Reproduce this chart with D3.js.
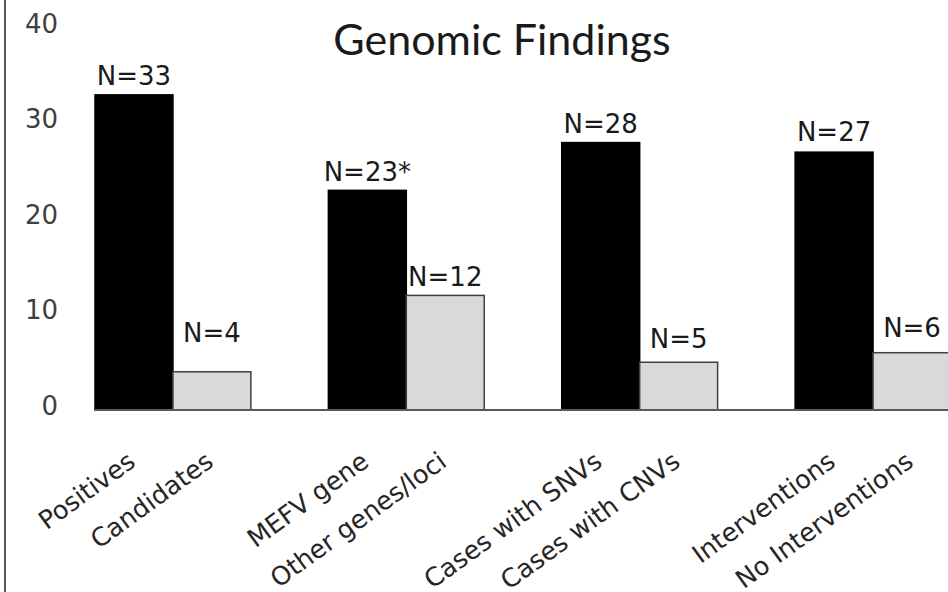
<!DOCTYPE html>
<html>
<head>
<meta charset="utf-8">
<script src="https://cdn.jsdelivr.net/npm/d3@7"></script>
<style>
  body { margin: 0; background: #fff; }
  svg { display: block; }
</style>
</head>
<body>
<div id="chart"></div>
<script>
// data
var groups = ["g1", "g2", "g3", "g4"];
var categories = ["Positives", "Candidates", "MEFV gene", "Other genes/loci",
                  "Cases with SNVs", "Cases with CNVs", "Interventions", "No Interventions"];
var values = [33, 4, 23, 12, 28, 5, 27, 6];
var valueLabels = ["N=33", "N=4", "N=23*", "N=12", "N=28", "N=5", "N=27", "N=6"];
var yTicks = [0, 10, 20, 30, 40];

// layout only: how far each N label sits above its bar
var labelLift = [10, 30, 9, 9, 10, 14, 11, 16];

var width = 948, height = 592;

var svg = d3.select("#chart").append("svg")
  .attr("width", width)
  .attr("height", height);

var y = d3.scaleLinear().domain([0, 40]).range([410, 28]);

var x0 = d3.scaleBand().domain(groups).range([95, 951]).paddingInner(0.332).paddingOuter(0);
var x1 = d3.scaleBand().domain([0, 1]).range([0, x0.bandwidth()]);

var bars = categories.map(function(c, i){
  return { cat: c, value: values[i], label: valueLabels[i], group: groups[Math.floor(i / 2)], sub: i % 2, lift: labelLift[i] };
});

function bx(d){ return x0(d.group) + x1(d.sub); }
function cx(d){ return bx(d) + x1.bandwidth() / 2; }

// left frame line
svg.append("line")
  .attr("x1", 5).attr("x2", 5).attr("y1", 0).attr("y2", height)
  .attr("stroke", "#595959").attr("stroke-width", 2);

// title
svg.append("text")
  .attr("x", 502).attr("y", 55)
  .attr("text-anchor", "middle")
  .style("font-family", "Lato, sans-serif")
  .style("font-size", "43px")
  .style("fill", "#1a1a1a")
  .text("Genomic Findings");

// y axis labels only
var yAxis = d3.axisLeft(y).tickValues(yTicks).tickSize(0).tickPadding(0);
var yg = svg.append("g").attr("transform", "translate(58,0)").call(yAxis);
yg.select(".domain").remove();
yg.selectAll("text")
  .attr("dy", null)
  .attr("y", 4)
  .style("font-family", "'DejaVu Sans', sans-serif")
  .style("font-size", "26px")
  .style("fill", "#404040");

// bars
svg.selectAll("rect.bar")
  .data(bars)
  .enter()
  .append("rect")
  .attr("class", "bar")
  .attr("x", bx)
  .attr("y", function(d){ return y(d.value); })
  .attr("width", x1.bandwidth())
  .attr("height", function(d){ return y(0) - y(d.value); })
  .attr("fill", function(d){ return d.sub === 0 ? "#000" : "#d9d9d9"; })
  .attr("stroke", function(d){ return d.sub === 0 ? "#000" : "#404040"; })
  .attr("stroke-width", 1.5);

// baseline
svg.append("line")
  .attr("x1", x0.range()[0]).attr("x2", width)
  .attr("y1", y(0)).attr("y2", y(0))
  .attr("stroke", "#595959").attr("stroke-width", 2);

// value labels
svg.selectAll("text.val")
  .data(bars)
  .enter()
  .append("text")
  .attr("class", "val")
  .attr("x", cx)
  .attr("y", function(d){ return y(d.value) - d.lift; })
  .attr("text-anchor", "middle")
  .style("font-family", "'DejaVu Sans', sans-serif")
  .style("font-size", "26px")
  .style("fill", "#1a1a1a")
  .text(function(d){ return d.label; });

// category labels, rotated
svg.selectAll("text.cat")
  .data(bars)
  .enter()
  .append("text")
  .attr("class", "cat")
  .attr("text-anchor", "end")
  .attr("transform", function(d){ return "translate(" + (cx(d) + 3) + ",465) rotate(-36)"; })
  .style("font-family", "'DejaVu Sans', sans-serif")
  .style("font-size", "25.5px")
  .style("fill", "#262626")
  .text(function(d){ return d.cat; });
</script>
</body>
</html>
